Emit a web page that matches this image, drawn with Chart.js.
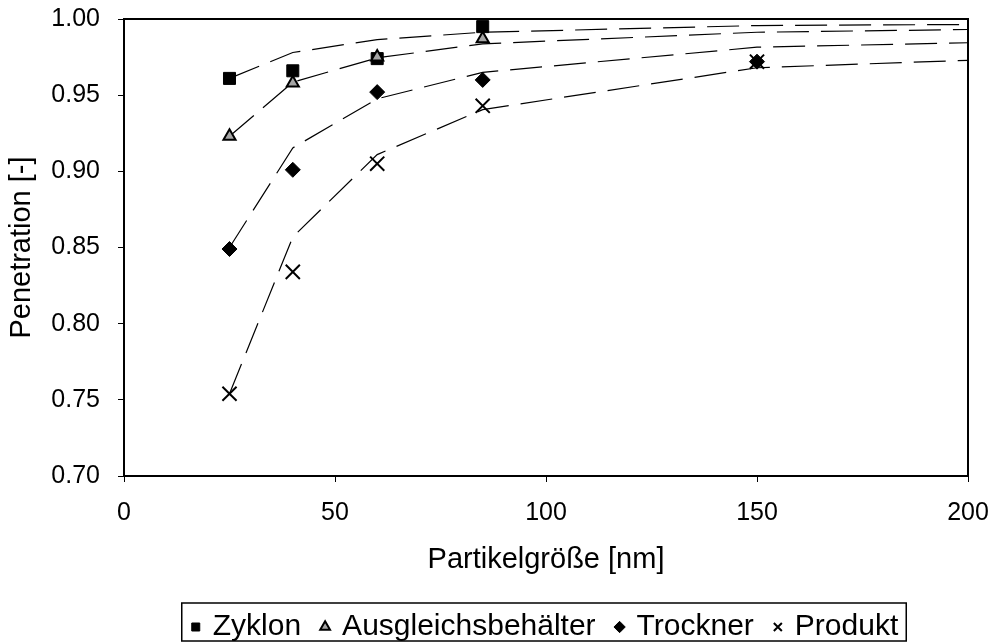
<!DOCTYPE html>
<html>
<head>
<meta charset="utf-8">
<script src="https://cdn.jsdelivr.net/npm/chart.js@4.4.1/dist/chart.umd.min.js"></script>
<style>
  html, body { margin: 0; padding: 0; background: #fff; }
  #wrap { width: 993px; height: 643px; }
</style>
</head>
<body>
<div id="wrap"><canvas id="chart" width="993" height="643"></canvas></div>
<script>
// measured particle sizes [nm]
const sizes = [25, 40, 60, 85];
const sizesLong = [25, 40, 60, 85, 150];

// measured penetration
const zyklon = [0.961, 0.966, 0.974, 0.995];
const ausgleich = [0.923, 0.958, 0.975, 0.987];
const trockner = [0.849, 0.901, 0.952, 0.960, 0.972];
const produkt = [0.754, 0.834, 0.905, 0.943, 0.972];

// fitted curves (dashed)
const fitX = [25, 40, 60, 85, 150, 200];
const zyklonFit = [0.961, 0.978, 0.9865, 0.9913, 0.9957, 0.9964];
const ausgleichFit = [0.923, 0.9585, 0.9745, 0.9837, 0.9913, 0.9931];
const trocknerFit = [0.850, 0.9154, 0.9476, 0.965, 0.9815, 0.9844];
const produktFit = [0.754, 0.8569, 0.911, 0.9405, 0.968, 0.9729];

const xTicks = [0, 50, 100, 150, 200];
const yTicks = [0.70, 0.75, 0.80, 0.85, 0.90, 0.95, 1.00];

const FONT = "'Liberation Sans', Arial, sans-serif";

function pts(xs, ys) {
    return ys.map((y, i) => ({ x: xs[i], y: y }));
}

function markers(label, xs, ys, style, fill, radius, order) {
    return {
        type: 'scatter',
        label: label,
        data: pts(xs, ys),
        pointStyle: style,
        pointRadius: radius,
        pointHoverRadius: radius,
        backgroundColor: fill,
        borderColor: '#000',
        borderWidth: style === 'triangle' || style === 'crossRot' ? 2 : 1,
        showLine: false,
        order: order,
    };
}

function fitLine(label, ys) {
    return {
        type: 'line',
        label: label,
        data: pts(fitX, ys),
        borderColor: '#000',
        borderWidth: 1.2,
        borderDash: [32, 12],
        pointRadius: 0,
        fill: false,
        tension: 0,
        order: 10,
    };
}

// drop the label overflow padding so layout.padding alone places the plot
function noOverflow(scale) {
    scale.paddingTop = 0;
    scale.paddingBottom = 0;
    scale.paddingLeft = 0;
    scale.paddingRight = 0;
}

// plot frame, legend centred under the plot and boxed
const frame = {
    id: 'frame',
    afterLayout(chart) {
        const lg = chart.legend;
        const a = chart.chartArea;
        const dx = (a.left + a.right) / 2 - (lg.left + lg.right) / 2;
        lg.left += dx;
        lg.right += dx;
    },
    afterDraw(chart) {
        const ctx = chart.ctx;
        const a = chart.chartArea;
        ctx.save();
        ctx.strokeStyle = '#000';
        ctx.lineWidth = 2;
        ctx.strokeRect(a.left, a.top, a.right - a.left, a.bottom - a.top);
        const boxes = chart.legend.legendHitBoxes;
        if (boxes && boxes.length) {
            let l = Infinity, r = -Infinity, t = Infinity, b = -Infinity;
            boxes.forEach(h => {
                l = Math.min(l, h.left);
                r = Math.max(r, h.left + h.width);
                t = Math.min(t, h.top);
                b = Math.max(b, h.top + h.height);
            });
            ctx.lineWidth = 1.5;
            ctx.strokeRect(l - 12, t - 9, r - l + 20, b - t + 8);
        }
        ctx.restore();
    }
};

new Chart(document.getElementById('chart'), {
    data: {
        datasets: [
            markers('Zyklon', sizes, zyklon, 'rect', '#000', 8.5, 4),
            markers('Ausgleichsbehälter', sizes, ausgleich, 'triangle', '#a6a6a6', 7, 3),
            markers('Trockner', sizesLong, trockner, 'rectRot', '#000', 7.5, 2),
            markers('Produkt', sizesLong, produkt, 'crossRot', '#000', 10, 1),
            fitLine('fit Zyklon', zyklonFit),
            fitLine('fit Ausgleichsbehälter', ausgleichFit),
            fitLine('fit Trockner', trocknerFit),
            fitLine('fit Produkt', produktFit),
        ]
    },
    options: {
        responsive: false,
        animation: false,
        layout: {
            padding: { left: 0, top: 19, right: 25, bottom: -9 }
        },
        scales: {
            x: {
                type: 'linear',
                min: 0,
                max: 200,
                afterBuildTicks: (scale) => { scale.ticks = xTicks.map(v => ({ value: v })); },
                afterFit: (scale) => { scale.height = 114; noOverflow(scale); },
                ticks: {
                    color: '#000',
                    padding: 16,
                    font: { family: FONT, size: 25 },
                },
                grid: {
                    display: true,
                    drawOnChartArea: false,
                    drawTicks: true,
                    tickLength: 6,
                    tickColor: '#000',
                },
                border: { display: true, color: '#000', width: 2 },
                title: {
                    display: true,
                    text: 'Partikelgröße [nm]',
                    color: '#000',
                    font: { family: FONT, size: 29 },
                    padding: { top: 0, bottom: 13 },
                },
            },
            y: {
                min: 0.7,
                max: 1.0,
                afterBuildTicks: (scale) => { scale.ticks = yTicks.map(v => ({ value: v })); },
                afterFit: (scale) => { scale.width = 124; noOverflow(scale); },
                ticks: {
                    color: '#000',
                    padding: 18,
                    font: { family: FONT, size: 25 },
                    callback: (v) => Number(v).toFixed(2),
                },
                grid: {
                    display: true,
                    drawOnChartArea: false,
                    drawTicks: true,
                    tickLength: 6,
                    tickColor: '#000',
                },
                border: { display: true, color: '#000', width: 2 },
                title: {
                    display: true,
                    text: 'Penetration [-]',
                    color: '#000',
                    font: { family: FONT, size: 29 },
                    padding: { top: 5, bottom: 0 },
                },
            },
        },
        plugins: {
            legend: {
                position: 'bottom',
                labels: {
                    color: '#000',
                    font: { family: FONT, size: 30 },
                    usePointStyle: true,
                    boxWidth: 4,
                    boxHeight: 8,
                    padding: 22,
                    filter: (item) => item.datasetIndex < 4,
                    sort: (a, b) => a.datasetIndex - b.datasetIndex,
                },
            },
            tooltip: { enabled: false },
        },
    },
    plugins: [frame],
});
</script>
</body>
</html>
